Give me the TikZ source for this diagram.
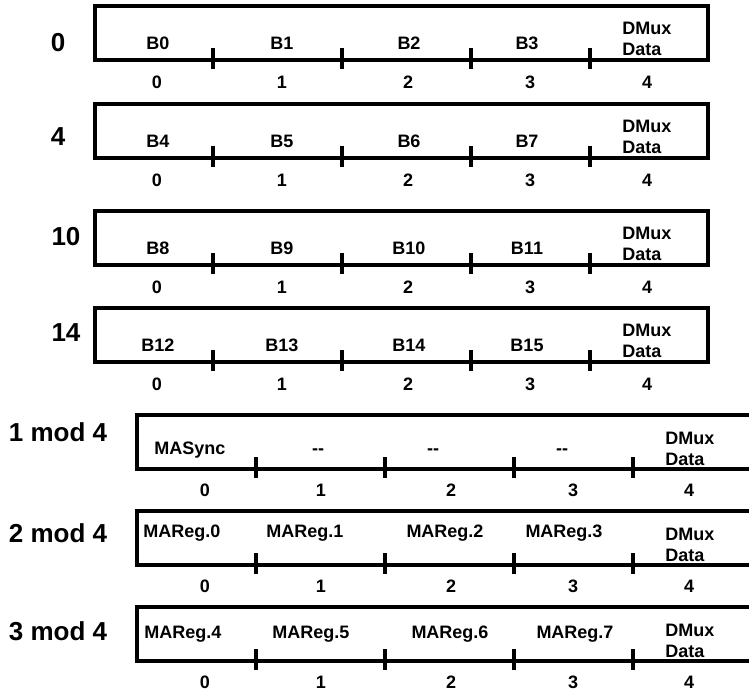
\documentclass[tikz,border=0pt]{standalone}
\usepackage{fontspec}
\setmainfont{Liberation Sans}
\begin{document}
\begin{tikzpicture}[x=0.75pt,y=-0.75pt,
  boxline/.style={line width=2.6pt, line cap=rect},
  tickline/.style={line width=2.5pt},
  cell/.style={font=\fontsize{13.5}{15}\selectfont\bfseries, inner sep=0pt, anchor=base},
  idx/.style={font=\fontsize{13.5}{15}\selectfont\bfseries, inner sep=0pt, anchor=base},
  dmux/.style={font=\fontsize{13.5}{15.5}\selectfont\bfseries, inner sep=0pt, align=left, anchor=base west},
  rowlab/.style={font=\fontsize{19.5}{22}\selectfont\bfseries, inner sep=0pt, anchor=base}]
\useasboundingbox (0,0) rectangle (749,694);
\clip (0,0) rectangle (749,694);
% ---------- rows 0,4,10,14 ----------
\foreach \T/\lab/\lx/\ly/\a/\b/\c/\d/\n in {6/0/58/51/B0/B1/B2/B3/r1, 104/4/58/145/B4/B5/B6/B7/r2, 211/10/66/245/B8/B9/B10/B11/r3, 308/14/66/341/B12/B13/B14/B15/r4}{
  \draw[boxline] (95,\T) rectangle (708,\T+54);
  \foreach \tx in {213,342,471,590}{
    \draw[tickline] (\tx,\T+42) -- (\tx,\T+63);
  }
  \node[rowlab] (\n lab) at (\lx,\ly) {\lab};
  \node[cell] (\n c0) at (158,\T+43.5) {\a};
  \node[cell] (\n c1) at (282,\T+43.5) {\b};
  \node[cell] (\n c2) at (409,\T+43.5) {\c};
  \node[cell] (\n c3) at (527,\T+43.5) {\d};
  \node[dmux] (\n c4) at (622,\T+49) {DMux\\Data};
  \node[idx] (\n i0) at (157,\T+82.5) {0};
  \node[idx] (\n i1) at (282,\T+82.5) {1};
  \node[idx] (\n i2) at (408,\T+82.5) {2};
  \node[idx] (\n i3) at (530,\T+82.5) {3};
  \node[idx] (\n i4) at (647,\T+82.5) {4};
}
% ---------- rows mod 4 ----------
\foreach \T/\n in {415/r5, 511/r6, 607/r7}{
  \draw[boxline] (760,\T) -- (137,\T) -- (137,\T+54) -- (760,\T+54);
  \foreach \tx in {256,385,514,633}{
    \draw[tickline] (\tx,\T+42) -- (\tx,\T+63);
  }
  \node[dmux] (\n c4) at (665,\T+50) {DMux\\Data};
  \node[idx] (\n i0) at (205,\T+81.5) {0};
  \node[idx] (\n i1) at (321,\T+81.5) {1};
  \node[idx] (\n i2) at (451,\T+81.5) {2};
  \node[idx] (\n i3) at (573,\T+81.5) {3};
  \node[idx] (\n i4) at (689,\T+81.5) {4};
}
\node[rowlab] (r5lab) at (58,441) {1 mod 4};
\node[rowlab] (r6lab) at (58,542) {2 mod 4};
\node[rowlab] (r7lab) at (58,640) {3 mod 4};
\node[cell] (r5c0) at (190,454.5) {MASync};
\node[cell] (r5c1) at (318,454.5) {{-}{-}};
\node[cell] (r5c2) at (433,454.5) {{-}{-}};
\node[cell] (r5c3) at (562,454.5) {{-}{-}};
\node[cell] (r6c0) at (182,537.5) {MAReg.0};
\node[cell] (r6c1) at (305,537.5) {MAReg.1};
\node[cell] (r6c2) at (445,537.5) {MAReg.2};
\node[cell] (r6c3) at (564,537.5) {MAReg.3};
\node[cell] (r7c0) at (183,638) {MAReg.4};
\node[cell] (r7c1) at (311,638) {MAReg.5};
\node[cell] (r7c2) at (450,638) {MAReg.6};
\node[cell] (r7c3) at (575,638) {MAReg.7};
\end{tikzpicture}
\end{document}
